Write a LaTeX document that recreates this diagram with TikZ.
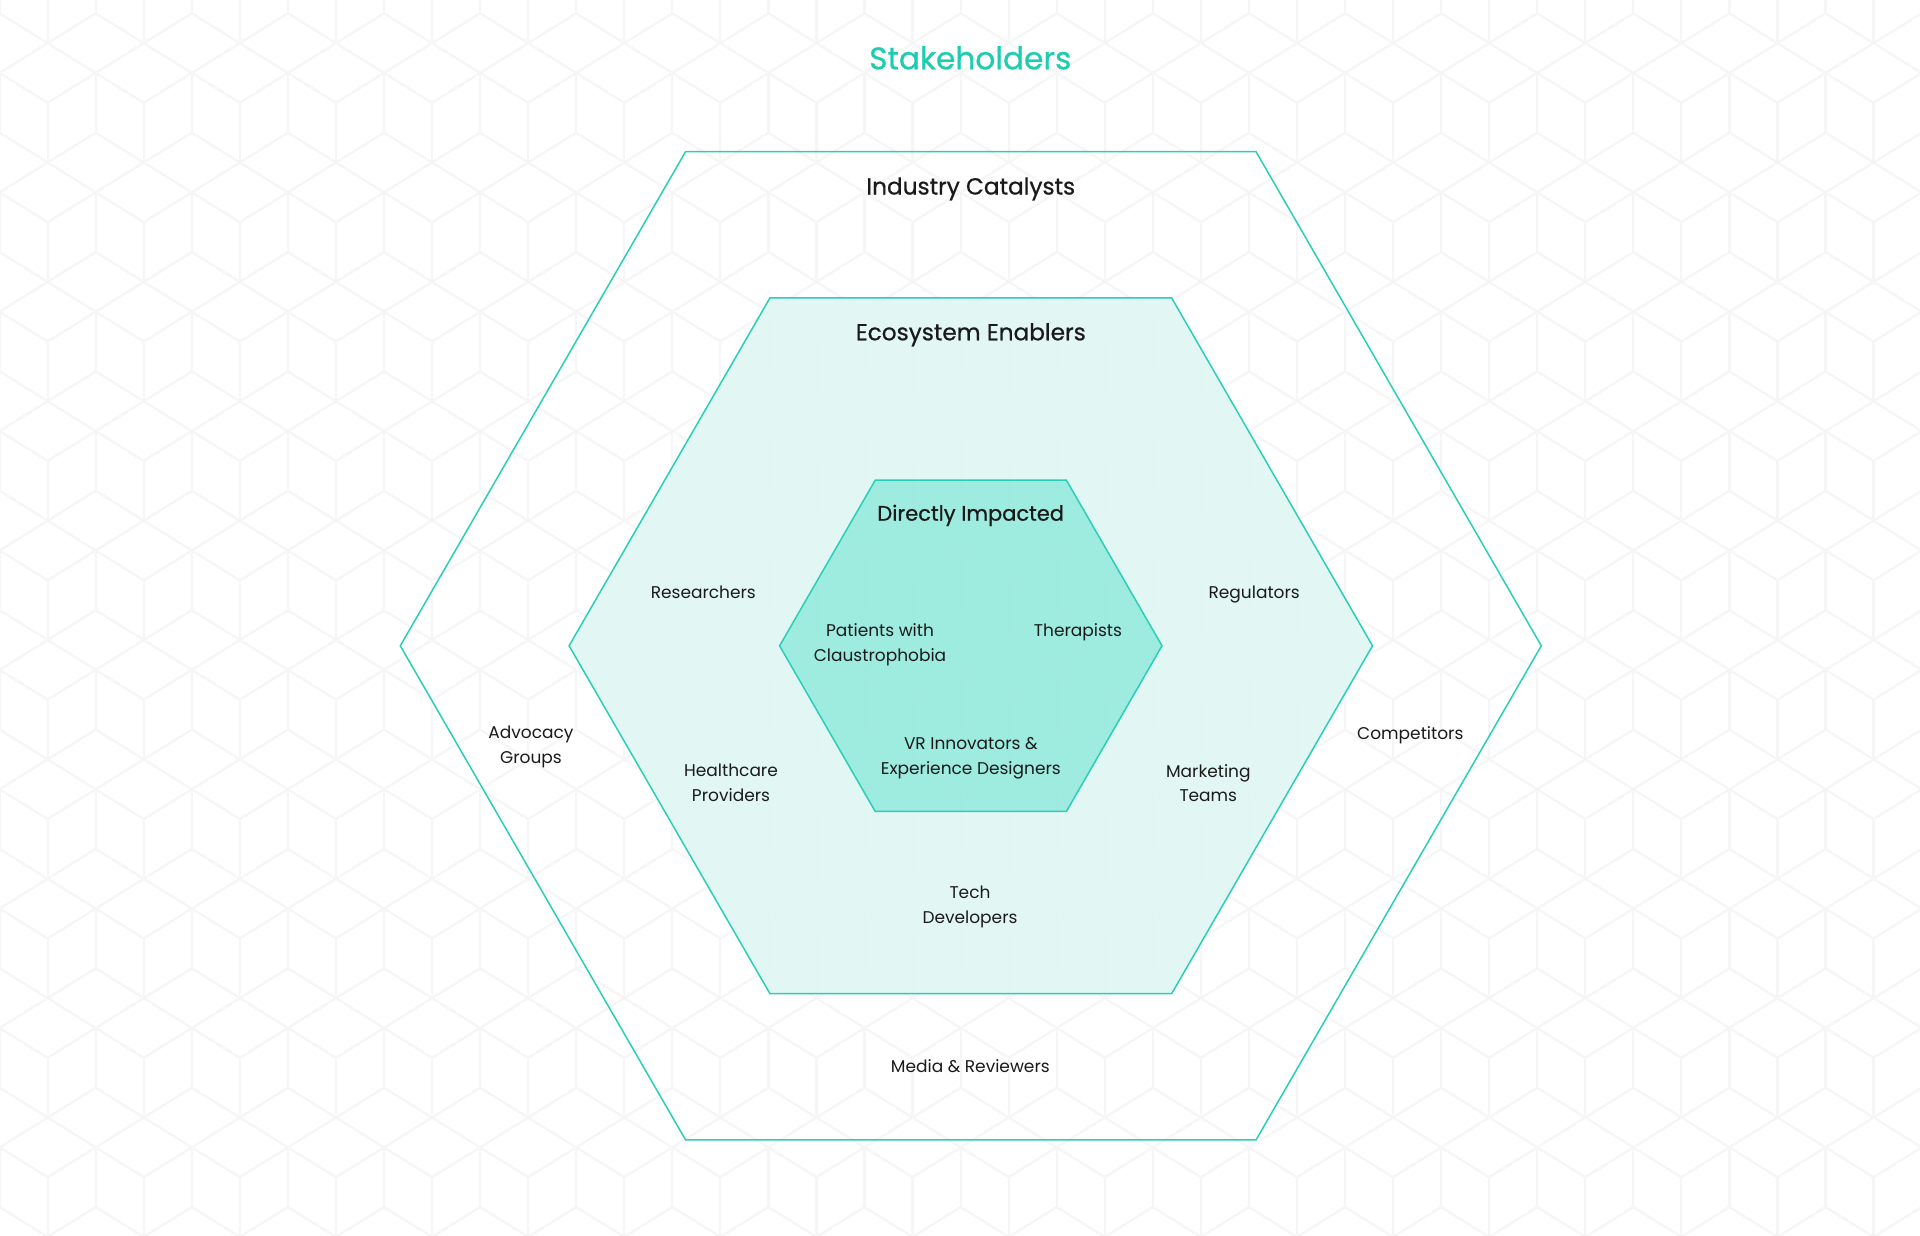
\documentclass[tikz,border=0pt]{standalone}
\usepackage{fontspec}
\setmainfont{Poppins}
\newfontfamily\medfont[FakeBold=0.7]{Poppins}
\definecolor{hexstroke}{HTML}{2ACFB8}
\definecolor{ecofill}{HTML}{DEF7F3}
\definecolor{innerfill}{HTML}{99EADE}
\definecolor{titlecol}{HTML}{1ECDAF}
\definecolor{ink}{HTML}{1A1A1A}
\definecolor{patgray}{HTML}{F6F6F6}
\newcommand\lblfont{\fontsize{17}{24.5}\selectfont}
\newcommand\headfont{\medfont\fontsize{23.2}{30}\selectfont}
\newcommand\smheadfont{\medfont\fontsize{21}{28}\selectfont}
\newcommand\titlefont{\medfont\fontsize{31.2}{38}\selectfont}
\tikzset{
  lbl/.style={font=\lblfont, text=ink, align=center, inner sep=0pt, anchor=base},
  headlbl/.style={font=\headfont, text=ink, inner sep=0pt, anchor=base},
  smheadlbl/.style={font=\smheadfont, text=ink, inner sep=0pt, anchor=base},
  titlelbl/.style={font=\titlefont, text=titlecol, inner sep=0pt, anchor=base},
  hexline/.style={draw=hexstroke, line width=1.5pt, line join=miter},
  patline/.style={draw=patgray, line width=2.2pt, line join=round, line cap=round}
}
\begin{document}
\begin{tikzpicture}[x=1pt,y=-1pt]
\fill[white] (0,0) rectangle (1920,1236);
\path[use as bounding box] (0,0) rectangle (1920,1236);
% background cube pattern
\begin{scope}
\clip (0,0) rectangle (1920,1236);
\foreach \i in {-1,...,20}{
  \foreach \j in {-1,...,10}{
    \pgfmathsetmacro\xa{-0.4+96.1*\i}
    \pgfmathsetmacro\ya{13.3+119.375*\j}
    \draw[patline] (\xa,\ya) -- ++(48.05,29.84) -- ++(48.05,-29.84);
    \draw[patline] (\xa,{\ya+59.68}) -- ++(48.05,-29.84) -- ++(48.05,29.84) -- ++(-48.05,29.84) -- cycle;
    \draw[patline] (\xa,{\ya+59.68}) -- ++(0,59.68);
    \draw[patline] ({\xa+48.05},{\ya+89.52}) -- ++(0,59.68);
  }
}
\end{scope}
% hexagons
\def\cx{970.8}
\def\cy{645.8}
\draw[hexline, shift={(\cx,\cy)}] (0:570.5) -- (60:570.5) -- (120:570.5) -- (180:570.5) -- (240:570.5) -- (300:570.5) -- cycle;
\draw[hexline, fill=ecofill, fill opacity=0.88, shift={(\cx,\cy)}] (0:401.7) -- (60:401.7) -- (120:401.7) -- (180:401.7) -- (240:401.7) -- (300:401.7) -- cycle;
\draw[hexline, fill=innerfill, fill opacity=0.92, shift={(\cx,\cy)}] (0:191.2) -- (60:191.2) -- (120:191.2) -- (180:191.2) -- (240:191.2) -- (300:191.2) -- cycle;
% texts (base anchor = baseline of the last line)
\node[titlelbl] (title) at (970.3,69.3) {Stakeholders};
\node[headlbl] (ic) at (970.8,194.5) {Industry Catalysts};
\node[headlbl] (ee) at (970.8,340.3) {Ecosystem Enablers};
\node[smheadlbl] (di) at (970.7,520.7) {Directly Impacted};
\node[lbl] (pat) at (880,661.3) {Patients with\\Claustrophobia};
\node[lbl] (ther) at (1078,636.7) {Therapists};
\node[lbl] (vr) at (970.8,774.3) {VR Innovators \&\\Experience Designers};
\node[lbl] (res) at (703.3,598) {Researchers};
\node[lbl] (reg) at (1254.2,598.3) {Regulators};
\node[lbl] (hc) at (731,801) {Healthcare\\Providers};
\node[lbl] (mkt) at (1208.3,801.7) {Marketing\\Teams};
\node[lbl] (tech) at (970,923.3) {Tech\\Developers};
\node[lbl] (adv) at (531,763.3) {Advocacy\\Groups};
\node[lbl] (comp) at (1410.3,739) {Competitors};
\node[lbl] (media) at (970.3,1072.3) {Media \& Reviewers};
\end{tikzpicture}
\end{document}
